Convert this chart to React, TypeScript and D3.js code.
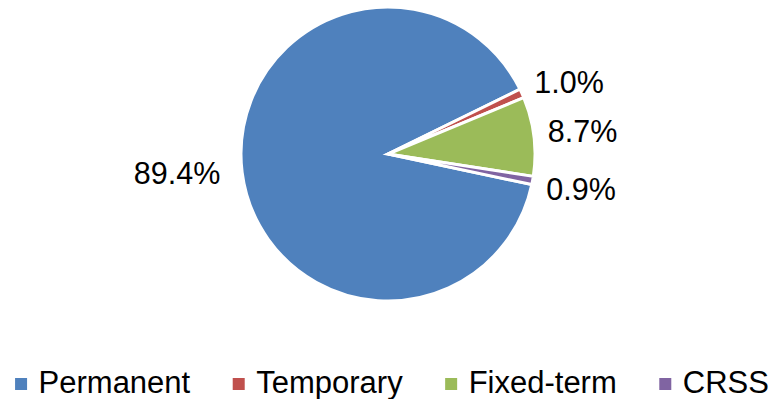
import React, { useEffect, useRef } from "react";
import * as d3 from "d3";

const categories = ["Permanent", "Temporary", "Fixed-term", "CRSS"];
const values = [89.4, 1.0, 8.7, 0.9];
const labels = ["89.4%", "1.0%", "8.7%", "0.9%"];
const colors = ["#4F81BD", "#C0504D", "#9BBB59", "#8064A2"];

const W = 784;
const H = 399;

export default function App() {
  const ref = useRef<SVGSVGElement | null>(null);

  useEffect(() => {
    const svg = d3.select(ref.current);
    svg.selectAll("*").remove();

    const cx = 388;
    const cy = 154;
    const r = 147;
    const start = (102 * Math.PI) / 180;

    const pie = d3
      .pie<number>()
      .sort(null)
      .value((d) => d)
      .startAngle(start)
      .endAngle(start + 2 * Math.PI);
    const arcs = pie(values);
    const arc = d3.arc<d3.PieArcDatum<number>>().innerRadius(0).outerRadius(r);

    const g = svg.append("g").attr("transform", `translate(${cx},${cy})`);
    g.selectAll("path")
      .data(arcs)
      .enter()
      .append("path")
      .attr("d", arc as any)
      .attr("fill", (_, i) => colors[i])
      .attr("stroke", "#fff")
      .attr("stroke-width", 3)
      .attr("stroke-linejoin", "miter");

    const R = r + 18;
    const mid = (d: d3.PieArcDatum<number>) => (d.startAngle + d.endAngle) / 2;
    // label anchor points, with small slices on the right spread apart vertically
    const pts = arcs.map((d) => {
      const a = mid(d);
      return { x: Math.sin(a) * R, y: -Math.cos(a) * R, right: Math.sin(a) >= 0 };
    });
    // spread right-side labels away from the middle one
    const rightIdx = pts.map((p, i) => (p.right ? i : -1)).filter((i) => i >= 0);
    rightIdx.sort((a, b) => pts[a].y - pts[b].y);
    if (rightIdx.length === 3) {
      pts[rightIdx[0]].y -= 4;
      pts[rightIdx[1]].y -= 3;
      pts[rightIdx[2]].y += 5;
    }
    g.selectAll("text.lbl")
      .data(arcs)
      .enter()
      .append("text")
      .attr("class", "lbl")
      .attr("x", (_, i) => (pts[i].right ? pts[i].x - 4 : pts[i].x - 4))
      .attr("y", (_, i) => pts[i].y - (pts[i].right ? 0 : 1))
      .attr("text-anchor", (_, i) => (pts[i].right ? "start" : "end"))
      .attr("dy", "0.36em")
      .attr("font-family", "Liberation Sans, Arial, sans-serif")
      .attr("font-size", 30.5)
      .attr("fill", "#000")
      .text((_, i) => labels[i]);

    // legend
    const lg = svg.append("g");
    const fs = 31;
    const items = lg.selectAll("g").data(categories).enter().append("g");
    items
      .append("rect")
      .attr("width", 12)
      .attr("height", 12)
      .attr("y", 378)
      .attr("fill", (_, i) => colors[i]);
    const texts = items
      .append("text")
      .attr("y", 392.5)
      .attr("font-family", "Liberation Sans, Arial, sans-serif")
      .attr("font-size", fs)
      .attr("fill", "#000")
      .text((d) => d);
    const widths: number[] = [];
    texts.each(function () {
      widths.push((this as SVGTextElement).getComputedTextLength());
    });
    const markerW = 12;
    const gapText = 11.5;
    const gapItem = 42.5;
    let total = 0;
    widths.forEach((w, i) => {
      total += markerW + gapText + w + (i < widths.length - 1 ? gapItem : 0);
    });
    let x = (W - total) / 2;
    items.each(function (_, i) {
      const it = d3.select(this);
      it.select("rect").attr("x", x);
      it.select("text").attr("x", x + markerW + gapText);
      x += markerW + gapText + widths[i] + gapItem;
    });
  }, []);

  return (
    <svg
      ref={ref}
      width={W}
      height={H}
      style={{ position: "absolute", left: 0, top: 0, display: "block", background: "#fff" }}
    />
  );
}
